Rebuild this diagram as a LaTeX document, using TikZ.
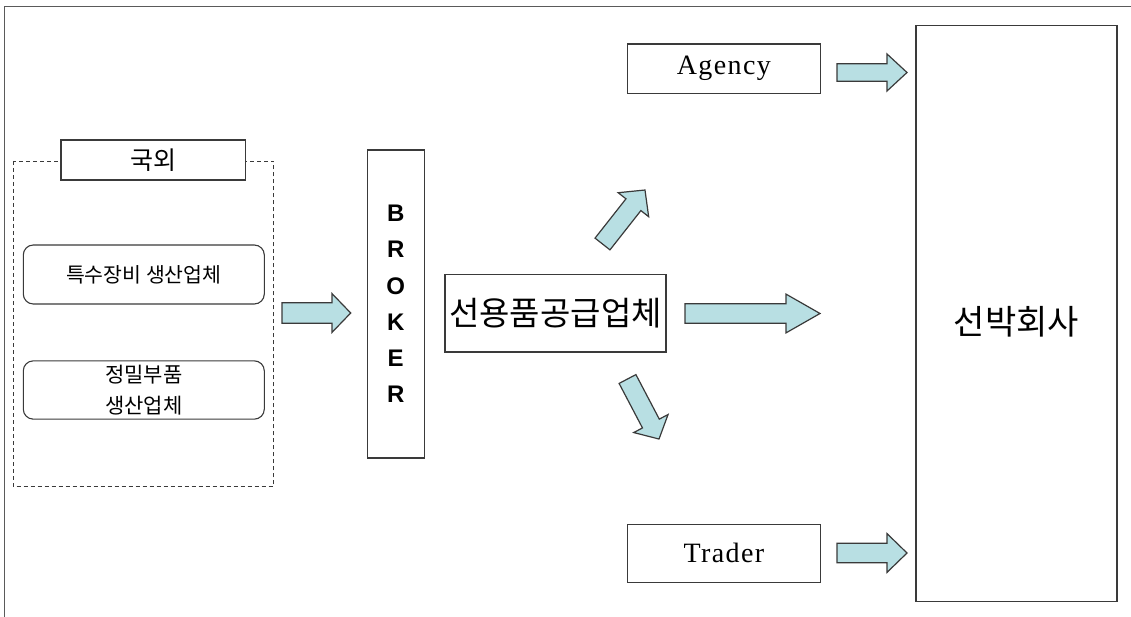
\documentclass[tikz,border=0pt]{standalone}
\usepackage{fontspec}
\setmainfont{Liberation Serif}
\newfontfamily\kr{Noto Sans CJK KR}
\newfontfamily\arialbold{Liberation Sans Bold}
\definecolor{arrowfill}{RGB}{184,223,227}
\definecolor{edge}{RGB}{58,58,58}
\definecolor{framegray}{RGB}{90,90,90}

% block arrow: tail midpoint, direction angle, length, head length, shaft half-width, head half-width
\newcommand\blockarrow[6]{%
  \begin{scope}[shift={(#1)},rotate=#2]
    \draw[blockarrowstyle] (0,-#5) -- ({#3-#4},-#5) -- ({#3-#4},-#6) -- (#3,0)
      -- ({#3-#4},#6) -- ({#3-#4},#5) -- (0,#5) -- cycle;
  \end{scope}}

\begin{document}
\begin{tikzpicture}[x=1pt,y=-1pt,
  box/.style={draw=edge,line width=1.1pt,fill=white,inner sep=0pt,align=center},
  roundbox/.style={box,rounded corners=10pt},
  blockarrowstyle/.style={draw=edge,line width=1.2pt,fill=arrowfill,line join=miter},
  frameline/.style={draw=framegray,line width=1.8pt}]
\useasboundingbox (0,0) rectangle (1131,617);

% outer frame (top and left edges)
\coordinate (frameTL) at (4.5,6.5);
\coordinate (frameTR) at (1135,6.5);
\coordinate (frameBL) at (4.5,620);
\draw[frameline] (frameBL) -- (frameTL) -- (frameTR);

% overseas group
\draw[draw=edge,line width=0.9pt,dash pattern=on 4pt off 3pt] (13.3,161) rectangle (273.3,486.7);
\node[box,minimum width=184.7pt,minimum height=40pt,font=\kr\fontsize{25}{28}\selectfont] (abroad) at (153.3,160) {국외};
\node[roundbox,minimum width=241pt,minimum height=59pt,font=\kr\fontsize{20.5}{24}\selectfont] (special) at (143.8,274.5) {특수장비 생산업체};
\node[roundbox,minimum width=241pt,minimum height=58.3pt,font=\kr\fontsize{21}{31.5}\selectfont] (precision) at (143.8,390) {정밀부품\\생산업체};

% broker
\node[box,minimum width=56.7pt,minimum height=308pt,font=\arialbold\fontsize{24}{36.2}\selectfont] (broker) at (395.7,304) {B\\R\\O\\K\\E\\R};

% supplier
\node[box,minimum width=221pt,minimum height=77.3pt,font=\kr\fontsize{33}{36}\selectfont] (supplier) at (555.5,313.3) {선용품공급업체};

% agency and trader
\node[box,minimum width=192.3pt,minimum height=49.3pt,font=\addfontfeature{LetterSpace=5}\fontsize{28}{30}\selectfont] (agency) at (723.9,68.7) {Agency};
\node[box,minimum width=192.3pt,minimum height=57.3pt,font=\addfontfeature{LetterSpace=5}\fontsize{28}{30}\selectfont] (trader) at (723.9,553.4) {Trader};

% shipping company
\node[box,minimum width=201pt,minimum height=575.5pt] (ship) at (1016.5,313.3) {};
\node[font=\kr\fontsize{34}{36}\selectfont,inner sep=0pt] (shiplabel) at (1016.5,322) {선박회사};

% flow arrows
\blockarrow{282,313}{0}{68.7}{18.7}{10.3}{19.4}
\blockarrow{685,313.5}{0}{135}{34}{9.7}{19.4}
\blockarrow{837,72.5}{0}{70}{20}{8.8}{18.5}
\blockarrow{837,553}{0}{70}{20}{9.8}{19.4}
\blockarrow{602.5,244}{51.8}{68.7}{18.7}{9.5}{19.4}
\blockarrow{627.5,379}{-62.3}{67.8}{17.5}{9.5}{19.4}
\end{tikzpicture}
\end{document}
